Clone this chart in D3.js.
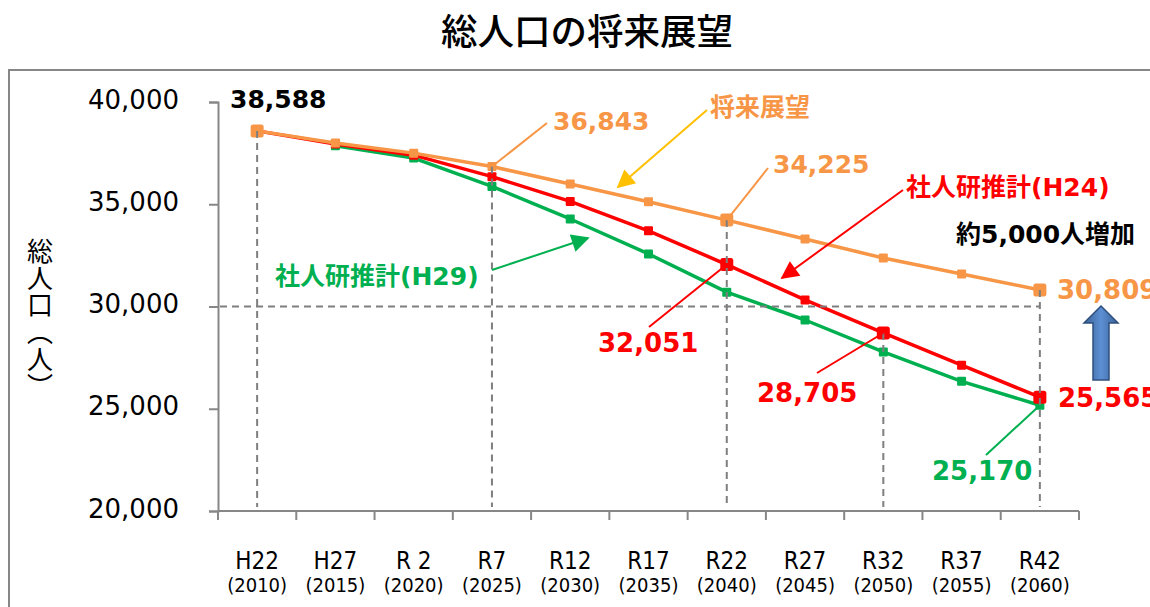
<!DOCTYPE html>
<html>
<head>
<meta charset="utf-8">
<script src="https://cdn.jsdelivr.net/npm/d3@7"></script>
<style>
  body { margin: 0; background: #fff; }
  svg { display: block; }
  .num { font-family: 'DejaVu Sans', 'Noto Sans CJK JP', sans-serif; font-weight: bold; }
</style>
</head>
<body>
<div id="chart"></div>
<script>
const years = ['2010', '2015', '2020', '2025', '2030', '2035', '2040', '2045', '2050', '2055', '2060']
const eraLabels = ['H22', 'H27', 'R 2', 'R7', 'R12', 'R17', 'R22', 'R27', 'R32', 'R37', 'R42']

// 将来展望
const outlook = [38588, 38000, 37500, 36843, 35990, 35120, 34225, 33300, 32370, 31590, 30809]
// 社人研推計(H24)
const ipssH24 = [38588, 37950, 37400, 36350, 35140, 33700, 32051, 30320, 28705, 27130, 25565]
// 社人研推計(H29)
const ipssH29 = [null, 37860, 37260, 35870, 34280, 32570, 30700, 29340, 27780, 26340, 25170]

const yTicks = [20000, 25000, 30000, 35000, 40000]

const width = 1150
const height = 607

const svg = d3
  .select('#chart')
  .append('svg')
  .attr('width', width)
  .attr('height', height)

const defs = svg.append('defs')

function arrowHead(id, color) {
  defs
    .append('marker')
    .attr('id', id)
    .attr('viewBox', '0 0 10 10')
    .attr('refX', 9)
    .attr('refY', 5)
    .attr('markerUnits', 'userSpaceOnUse')
    .attr('markerWidth', 20)
    .attr('markerHeight', 18)
    .attr('orient', 'auto')
    .append('path')
    .attr('d', 'M0,0 L10,5 L0,10 Z')
    .attr('fill', color)
}
arrowHead('head-yellow', '#FFC000')
arrowHead('head-red', '#FF0000')
arrowHead('head-green', '#00B050')

const grad = defs
  .append('linearGradient')
  .attr('id', 'blue-grad')
  .attr('x1', '0%')
  .attr('x2', '100%')
grad.append('stop').attr('offset', '0%').attr('stop-color', '#3B6296')
grad.append('stop').attr('offset', '50%').attr('stop-color', '#5C8FD3')
grad.append('stop').attr('offset', '100%').attr('stop-color', '#3B6296')

// outer frame
svg
  .append('rect')
  .attr('x', 9)
  .attr('y', 70)
  .attr('width', 1200)
  .attr('height', 600)
  .attr('fill', 'none')
  .attr('stroke', '#878787')
  .attr('stroke-width', 2)

// title
svg
  .append('text')
  .attr('x', 587)
  .attr('y', 45)
  .attr('text-anchor', 'middle')
  .style('font-family', "'Noto Sans CJK JP', sans-serif")
  .style('font-size', '36.5px')
  .style('font-weight', 500)
  .text('総人口の将来展望')

const xScale = d3.scaleBand().domain(years).range([218, 1079])
const cx = d => xScale(d) + xScale.bandwidth() / 2

const yScale = d3.scaleLinear().domain([20000, 40000]).range([511, 102])

// y axis
const yAxis = d3
  .axisLeft(yScale)
  .tickValues(yTicks)
  .tickSize(9)
  .tickPadding(30)
  .tickFormat(d3.format(','))

const yG = svg
  .append('g')
  .attr('class', 'axis y-axis')
  .attr('transform', 'translate(218,0)')
  .call(yAxis)
yG.select('.domain').attr('stroke', '#878787').attr('stroke-width', 2)
yG.selectAll('.tick line').attr('stroke', '#878787').attr('stroke-width', 2)
yG.selectAll('.tick text')
  .attr('dy', '6px')
  .attr('fill', '#000')
  .style('font-family', "'DejaVu Sans', sans-serif")
  .style('font-size', '26px')

// x axis (ticks at band boundaries)
const xG = svg.append('g').attr('class', 'axis x-axis')
xG.append('line')
  .attr('x1', 218)
  .attr('x2', 1079)
  .attr('y1', 511)
  .attr('y2', 511)
  .attr('stroke', '#878787')
  .attr('stroke-width', 2)

const bounds = years.map(d => xScale(d)).concat([xScale.range()[1]])
xG.selectAll('.xtick')
  .data(bounds)
  .enter()
  .append('line')
  .attr('class', 'xtick')
  .attr('x1', d => d)
  .attr('x2', d => d)
  .attr('y1', 511)
  .attr('y2', 520)
  .attr('stroke', '#878787')
  .attr('stroke-width', 2)

const xLab = xG.selectAll('.xlab')
  .data(years)
  .enter()
  .append('text')
  .attr('class', 'xlab')
  .attr('text-anchor', 'middle')
  .style('font-family', "'DejaVu Sans Condensed', 'DejaVu Sans', sans-serif")
  .style('font-stretch', 'condensed')
  .attr('fill', '#000')
xLab.append('tspan')
  .attr('x', d => cx(d))
  .attr('y', 569)
  .style('font-size', '24px')
  .text((d, i) => eraLabels[i])
xLab.append('tspan')
  .attr('x', d => cx(d))
  .attr('y', 592)
  .style('font-size', '20px')
  .text(d => '(' + d + ')')

// y axis title
svg
  .append('text')
  .attr('x', 40)
  .attr('y', 238)
  .style('writing-mode', 'vertical-rl')
  .style('font-family', "'Noto Sans CJK JP', sans-serif")
  .style('font-size', '26px')
  .style('letter-spacing', '1px')
  .text('総人口（人）')

// series
const series = [
  { name: 'H29', values: ipssH29, color: '#00B050', big: [] },
  { name: 'H24', values: ipssH24, color: '#FF0000', big: [6, 8, 10] },
  { name: 'outlook', values: outlook, color: '#F79646', big: [0, 6, 10] }
]

const line = d3
  .line()
  .defined(d => d.v !== null)
  .x(d => cx(d.year))
  .y(d => yScale(d.v))

series.forEach(s => {
  const pts = years.map((year, i) => ({ year: year, v: s.values[i], i: i }))
  svg
    .append('path')
    .datum(pts)
    .attr('d', line)
    .attr('fill', 'none')
    .attr('stroke', s.color)
    .attr('stroke-width', 3.5)
    .attr('stroke-linejoin', 'round')

  svg
    .selectAll('.m-' + s.name)
    .data(pts.filter(d => d.v !== null))
    .enter()
    .append('rect')
    .attr('class', 'm-' + s.name)
    .attr('width', d => (s.big.includes(d.i) ? 13 : 9))
    .attr('height', d => (s.big.includes(d.i) ? 13 : 9))
    .attr('rx', d => (s.big.includes(d.i) ? 2.5 : 1))
    .attr('x', d => cx(d.year) - (s.big.includes(d.i) ? 6.5 : 4.5))
    .attr('y', d => yScale(d.v) - (s.big.includes(d.i) ? 6.5 : 4.5))
    .attr('fill', s.color)
})

// dashed guide lines
const guides = svg.append('g').attr('class', 'guides')
const dropIdx = [0, 3, 6, 8, 10]
guides
  .selectAll('line')
  .data(dropIdx)
  .enter()
  .append('line')
  .attr('x1', i => cx(years[i]))
  .attr('x2', i => cx(years[i]))
  .attr('y1', i => yScale(i === 8 ? ipssH24[i] : outlook[i]))
  .attr('y2', 507)
  .attr('stroke', '#7F7F7F')
  .attr('stroke-width', 2)
  .attr('stroke-dasharray', '7,5')
guides
  .append('line')
  .attr('x1', 220)
  .attr('x2', cx(years[10]))
  .attr('y1', yScale(30000))
  .attr('y2', yScale(30000))
  .attr('stroke', '#7F7F7F')
  .attr('stroke-width', 2)
  .attr('stroke-dasharray', '7,5')

// annotations
const fmt = d3.format(',')
const ann = svg.append('g').attr('class', 'annotations')

function leader(i, values, x2, y2, color) {
  ann.append('line')
    .attr('x1', cx(years[i]))
    .attr('y1', yScale(values[i]))
    .attr('x2', x2)
    .attr('y2', y2)
    .attr('stroke', color)
    .attr('stroke-width', 2)
}

function label(x, y, text, color, size) {
  ann.append('text')
    .attr('class', 'num')
    .attr('x', x)
    .attr('y', y)
    .attr('fill', color)
    .style('font-size', (size || 26) + 'px')
    .text(text)
}

function arrow(x1, y1, x2, y2, color, head) {
  ann.append('line')
    .attr('x1', x1)
    .attr('y1', y1)
    .attr('x2', x2)
    .attr('y2', y2)
    .attr('stroke', color)
    .attr('stroke-width', 2)
    .attr('marker-end', 'url(#' + head + ')')
}

label(230, 108, fmt(outlook[0]), '#000', 25)

leader(3, outlook, 547, 123, '#F79646')
label(553, 130, fmt(outlook[3]), '#F79646', 25)

leader(6, outlook, 768, 168, '#F79646')
label(773, 173, fmt(outlook[6]), '#F79646', 25)

label(710, 116, '将来展望', '#F79646', 25)
arrow(707, 110, 618, 187, '#FFC000', 'head-yellow')

label(906, 196, '社人研推計(H24)', '#FF0000', 25)
arrow(903, 190, 782, 278, '#FF0000', 'head-red')

label(275, 285, '社人研推計(H29)', '#00B050', 25)
arrow(492, 270, 588, 238, '#00B050', 'head-green')

label(956, 243, '約5,000人増加', '#000', 25)

label(1057, 299, fmt(outlook[10]), '#F79646', 26)
label(1058, 407, fmt(ipssH24[10]), '#FF0000', 26)

leader(6, ipssH24, 649, 327, '#FF0000')
label(598, 352, fmt(ipssH24[6]), '#FF0000', 26)

leader(8, ipssH24, 817, 373, '#FF0000')
label(757, 402, fmt(ipssH24[8]), '#FF0000', 26)

leader(10, ipssH29, 986, 455, '#00B050')
label(932, 480, fmt(ipssH29[10]), '#00B050', 26)

// block arrow showing the increase
const up = [[1093, 380], [1093, 323], [1084, 323], [1101, 306], [1118, 323], [1109, 323], [1109, 380]]
ann.append('polygon')
  .attr('points', up.map(p => p.join(',')).join(' '))
  .attr('fill', 'url(#blue-grad)')
  .attr('stroke', '#2F4F7F')
  .attr('stroke-width', 1.5)
</script>
</body>
</html>
